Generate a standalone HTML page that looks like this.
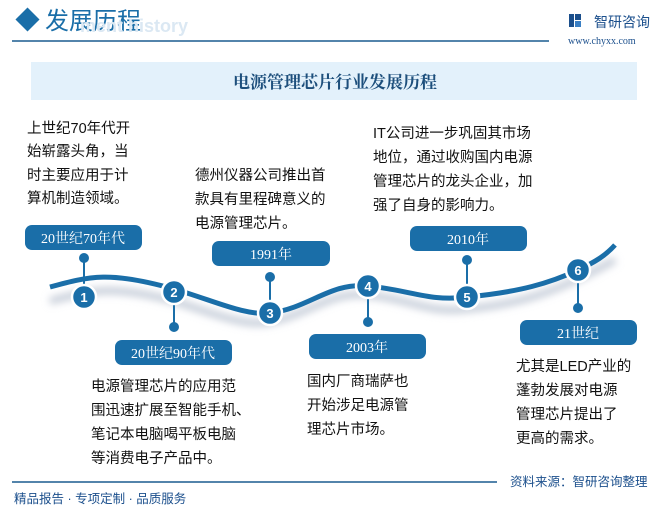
<!DOCTYPE html>
<html><head><meta charset="utf-8"><style>
html,body{margin:0;padding:0;background:#fff}
svg{display:block}
text{font-family:"Liberation Sans","Noto Sans CJK SC",sans-serif}
.t{font-size:14.5px;fill:#111}
.lab{font-size:14px;fill:#fff;text-anchor:middle;font-family:"Liberation Serif","Noto Serif CJK SC",serif}
</style></head><body>
<svg width="671" height="508" viewBox="0 0 671 508" xmlns="http://www.w3.org/2000/svg">
<defs>
<filter id="sh" x="-10%" y="-50%" width="120%" height="200%"><feGaussianBlur stdDeviation="4"/></filter>
</defs>
<!-- header -->
<rect x="19" y="11" width="17" height="17" transform="rotate(45 27.5 19.5)" fill="#1a6ea8"/>
<text x="45" y="29" style="font-size:24px;fill:#1a6ea8;font-family:'Noto Sans CJK SC',sans-serif">发展历程</text>
<text x="80" y="32" style="font-size:18px;font-weight:bold;fill:#dbe8f3">ment history</text>
<line x1="12" y1="41" x2="549" y2="41" stroke="#1a5c8f" stroke-width="1.5"/>
<rect x="569" y="14" width="5" height="13" fill="#1b4f8c"/><rect x="575" y="14" width="6" height="6" fill="#1b4f8c"/><rect x="575" y="21" width="6" height="6" fill="#3a7fc4"/>
<text x="594" y="27" style="font-size:14px;fill:#1b4f8c">智研咨询</text>
<text x="568" y="44" style="font-size:10px;fill:#1b4f8c;font-family:'Liberation Serif',serif">www.chyxx.com</text>
<!-- title bar -->
<rect x="31" y="62" width="606" height="38" fill="#e3f1fb"/>
<text x="335" y="88" text-anchor="middle" style="font-size:17px;font-weight:bold;fill:#1d4f7c;font-family:'Noto Serif CJK SC',serif">电源管理芯片行业发展历程</text>
<!-- wave -->
<path d="M50,292 C90,282 110,275 174,292 C215,305 245,318 270,313 C310,305 330,282 368,286 C410,290 430,305 467,300 C520,295 550,283 578,270 C595,262 605,256 615,251" stroke="#c5ccd8" stroke-width="7" fill="none" filter="url(#sh)" transform="translate(0,9)"/>
<path d="M50,287 C90,276 110,271 174,289 C215,301 245,316 270,313 C310,308 330,282 368,286 C410,290 430,302 467,297 C520,292 550,283 578,270 C595,262 605,256 615,245" stroke="#1a6ea8" stroke-width="5" fill="none"/>
<!-- stems -->
<g stroke="#1a6ea8" stroke-width="2" fill="#1a6ea8">
<line x1="84" y1="258" x2="84" y2="297"/><circle cx="84" cy="258" r="4"/>
<line x1="174" y1="292" x2="174" y2="327"/><circle cx="174" cy="327" r="4"/>
<line x1="270" y1="277" x2="270" y2="313"/><circle cx="270" cy="277" r="4"/>
<line x1="368" y1="286" x2="368" y2="322"/><circle cx="368" cy="322" r="4"/>
<line x1="467" y1="260" x2="467" y2="297"/><circle cx="467" cy="260" r="4"/>
<line x1="578" y1="270" x2="578" y2="308"/><circle cx="578" cy="308" r="4"/>
</g>
<!-- nodes -->
<g fill="#1a6ea8" stroke="#fff" stroke-width="2.5">
<circle cx="84" cy="297" r="12"/><circle cx="174" cy="292" r="12"/><circle cx="270" cy="313" r="12"/>
<circle cx="368" cy="286" r="12"/><circle cx="467" cy="297" r="12"/><circle cx="578" cy="270" r="12"/>
</g>
<g style="font-size:13px;font-weight:bold;fill:#fff;text-anchor:middle;font-family:'Liberation Serif',serif">
<text x="84" y="302">1</text><text x="174" y="297">2</text><text x="270" y="318">3</text>
<text x="368" y="291">4</text><text x="467" y="302">5</text><text x="578" y="275">6</text>
</g>
<!-- labels -->
<g fill="#1a6ea8">
<rect x="25" y="225" width="117" height="25" rx="7"/>
<rect x="212" y="241" width="118" height="25" rx="7"/>
<rect x="410" y="226" width="117" height="25" rx="7"/>
<rect x="115" y="340" width="117" height="25" rx="7"/>
<rect x="309" y="334" width="117" height="25" rx="7"/>
<rect x="520" y="320" width="117" height="25" rx="7"/>
</g>
<text class="lab" x="83" y="243">20世纪70年代</text>
<text class="lab" x="271" y="259">1991年</text>
<text class="lab" x="468" y="244">2010年</text>
<text class="lab" x="173" y="358">20世纪90年代</text>
<text class="lab" x="367" y="352">2003年</text>
<text class="lab" x="578" y="338">21世纪</text>
<!-- texts -->
<g class="t">
<text x="27" y="133">上世纪70年代开</text><text x="27" y="156">始崭露头角，当</text><text x="27" y="180">时主要应用于计</text><text x="27" y="203">算机制造领域。</text>
<text x="195" y="180">德州仪器公司推出首</text><text x="195" y="204">款具有里程碑意义的</text><text x="195" y="228">电源管理芯片。</text>
<text x="373" y="138">IT公司进一步巩固其市场</text><text x="373" y="162">地位，通过收购国内电源</text><text x="373" y="186">管理芯片的龙头企业，加</text><text x="373" y="210">强了自身的影响力。</text>
<text x="91" y="391">电源管理芯片的应用范</text><text x="91" y="415">围迅速扩展至智能手机、</text><text x="91" y="439">笔记本电脑喝平板电脑</text><text x="91" y="463">等消费电子产品中。</text>
<text x="307" y="386">国内厂商瑞萨也</text><text x="307" y="410">开始涉足电源管</text><text x="307" y="434">理芯片市场。</text>
<text x="516" y="371">尤其是LED产业的</text><text x="516" y="395">蓬勃发展对电源</text><text x="516" y="419">管理芯片提出了</text><text x="516" y="443">更高的需求。</text>
</g>
<!-- footer -->
<line x1="12" y1="482" x2="497" y2="482" stroke="#1a5c8f" stroke-width="1.5"/>
<text x="510" y="486" style="font-size:12.5px;fill:#1b4f8c">资料来源：智研咨询整理</text>
<text x="14" y="503" style="font-size:12.5px;fill:#1b4f8c">精品报告 · 专项定制 · 品质服务</text>
</svg>
</body></html>
